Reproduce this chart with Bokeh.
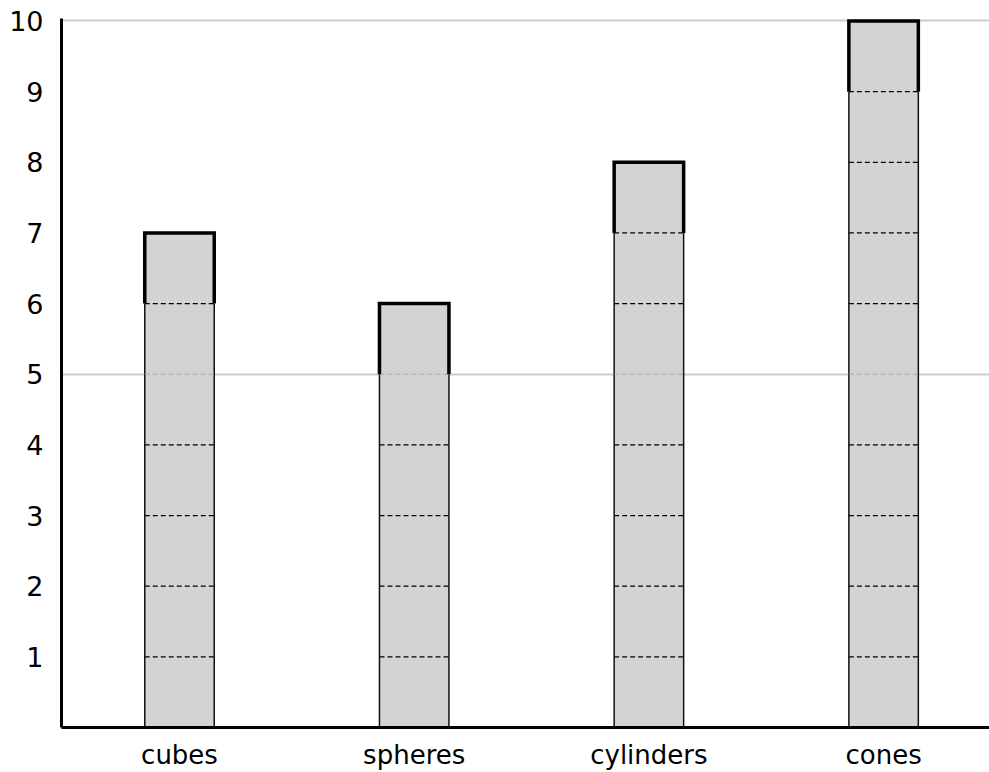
from bokeh.plotting import figure
from bokeh.models import Range1d, FixedTicker, ColumnDataSource
from bokeh.embed import file_html
from bokeh.resources import INLINE

categories = ["cubes", "spheres", "cylinders", "cones"]
values = [7, 6, 8, 10]
y_ticks = [1, 2, 3, 4, 5, 6, 7, 8, 9, 10]
grid_values = [5, 10]

BAR_W = 0.296
FILL = "#d3d3d3"
FONT = "DejaVu Sans"

xs = list(range(len(categories)))

p = figure(width=989, height=772, output_backend="svg", toolbar_location=None,
           x_range=Range1d(-0.5028, 3.4512), y_range=Range1d(0, 10.035),
           min_border_left=61, min_border_right=0, min_border_top=18, min_border_bottom=45)
p.outline_line_color = None
p.background_fill_color = "white"
p.border_fill_color = "white"

# full bar fill
bar_src = ColumnDataSource(dict(x=xs, top=values))
p.vbar(x="x", top="top", bottom=0, width=BAR_W, source=bar_src,
       fill_color=FILL, line_color=None)

# thin side lines for lower blocks
sx0, sx1, sy0, sy1 = [], [], [], []
for x, v in zip(xs, values):
    for side in (-1, 1):
        sx0.append(x + side * BAR_W / 2)
        sx1.append(x + side * BAR_W / 2)
        sy0.append(0)
        sy1.append(v - 1)
p.segment(x0=sx0, y0=sy0, x1=sx1, y1=sy1, line_color="#111111", line_width=1.5)

# dashed separators between unit blocks
dx0, dx1, dy, dc = [], [], [], []
for x, v in zip(xs, values):
    for k in range(1, v):
        dx0.append(x - BAR_W / 2)
        dx1.append(x + BAR_W / 2)
        dy.append(k)
        dc.append("#a8a8a8" if k in grid_values else "black")
p.segment(x0=dx0, y0=dy, x1=dx1, y1=dy, line_color=dc, line_width=1.2, line_dash="5 3")

# top block: thick outline on left, top and right sides
top_xs = [[x - BAR_W / 2, x - BAR_W / 2, x + BAR_W / 2, x + BAR_W / 2] for x in xs]
top_ys = [[v - 1, v, v, v - 1] for v in values]
p.multi_line(xs=top_xs, ys=top_ys, line_color="black", line_width=3.5, line_join="miter")

# axes
p.xaxis.ticker = FixedTicker(ticks=xs)
p.xaxis.major_label_overrides = {i: c for i, c in enumerate(categories)}
p.yaxis.ticker = FixedTicker(ticks=y_ticks)
for ax in (p.xaxis, p.yaxis):
    ax.axis_line_color = "black"
    ax.axis_line_width = 3
    ax.major_tick_line_color = None
    ax.minor_tick_line_color = None
    ax.major_tick_out = 0
    ax.major_tick_in = 0
    ax.major_label_text_font = FONT
    ax.major_label_text_color = "black"
p.xaxis.major_label_text_font_size = "26px"
p.yaxis.major_label_text_font_size = "27px"
p.xaxis.major_label_standoff = 12
p.yaxis.major_label_standoff = 18

p.xgrid.grid_line_color = None
p.ygrid.ticker = FixedTicker(ticks=grid_values)
p.ygrid.grid_line_color = "#cccccc"
p.ygrid.grid_line_width = 2

open("out.html", "w").write(file_html(p, INLINE))
